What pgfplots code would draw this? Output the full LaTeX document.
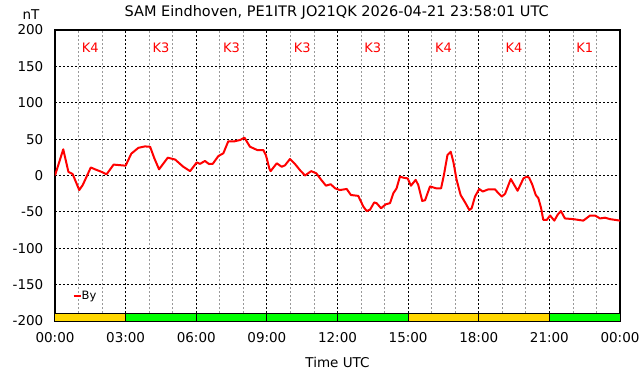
\documentclass[border=0pt]{standalone}
\usepackage{fontspec}
\setmainfont{DejaVu Sans}
\usepackage{pgfplots}
\pgfplotsset{compat=1.18}
\definecolor{kyellow}{RGB}{255,215,0}
\definecolor{kgreen}{RGB}{0,255,0}
\begin{document}
\fontsize{13.5}{15}\selectfont
\begin{tikzpicture}[x=1pt,y=1pt]
\useasboundingbox (0,0) rectangle (642,376);
\begin{axis}[
  at={(55pt,55pt)}, anchor=south west,
  scale only axis, width=565pt, height=291pt,
  xmin=0, xmax=24, ymin=-200, ymax=200,
  xtick={0,3,6,9,12,15,18,21,24},
  xticklabels={00:00,03:00,06:00,09:00,12:00,15:00,18:00,21:00,00:00},
  minor xtick={1,2,4,5,7,8,10,11,13,14,16,17,19,20,22,23},
  ytick={-200,-150,-100,-50,0,50,100,150,200},
  yticklabels={-200,-150,-100,-50,0,50,100,150,200},
  major tick length=0pt, minor tick length=0pt,
  grid=both,
  major grid style={black, dash pattern=on 2pt off 2pt, line width=0.8pt},
  minor grid style={black!40, dash pattern=on 2pt off 2pt, line width=0.8pt},
  axis line style={black, line width=1.2pt},
  xticklabel style={anchor=center, inner sep=0pt, yshift=-17pt},
  yticklabel style={anchor=east, inner sep=0pt, xshift=-11.5pt},
  legend style={at={(0.031,0.086)}, anchor=west, draw=none, fill=none, inner sep=0pt,
    font=\fontsize{11.5}{12}\selectfont, nodes={inner sep=0pt}},
  legend cell align=left,
  legend image code/.code={\draw[#1] (0pt,0pt) -- (7pt,0pt);},
]
% K-index bars
\addplot[fill=kyellow, draw=black, line width=1pt, forget plot] coordinates {(0,-200)(0,-189)(3,-189)(3,-200)} -- cycle;
\addplot[fill=kgreen, draw=black, line width=1pt, forget plot] coordinates {(3,-200)(3,-189)(6,-189)(6,-200)} -- cycle;
\addplot[fill=kgreen, draw=black, line width=1pt, forget plot] coordinates {(6,-200)(6,-189)(9,-189)(9,-200)} -- cycle;
\addplot[fill=kgreen, draw=black, line width=1pt, forget plot] coordinates {(9,-200)(9,-189)(12,-189)(12,-200)} -- cycle;
\addplot[fill=kgreen, draw=black, line width=1pt, forget plot] coordinates {(12,-200)(12,-189)(15,-189)(15,-200)} -- cycle;
\addplot[fill=kyellow, draw=black, line width=1pt, forget plot] coordinates {(15,-200)(15,-189)(18,-189)(18,-200)} -- cycle;
\addplot[fill=kyellow, draw=black, line width=1pt, forget plot] coordinates {(18,-200)(18,-189)(21,-189)(21,-200)} -- cycle;
\addplot[fill=kgreen, draw=black, line width=1pt, forget plot] coordinates {(21,-200)(21,-189)(24,-189)(24,-200)} -- cycle;
% By
\addplot[red, line width=2pt, line join=round] coordinates {
(0,0)(0.35,36)(0.57,5)(0.75,2)(1.03,-20)(1.18,-13)(1.52,11)(1.77,7.6)(1.98,5)(2.19,1.6)
(2.49,15)(3.0,13.5)(3.24,30)(3.54,38)(3.82,40)(4.04,39.5)(4.22,23.6)(4.42,8.5)(4.79,24.5)
(5.1,22)(5.45,12)(5.74,6)(6.02,18)(6.16,16)(6.37,20)(6.54,15.8)(6.7,16)(6.94,26.8)(7.15,30.5)
(7.36,47)(7.62,47)(7.86,48.8)(8.05,52)(8.28,39.6)(8.59,35)(8.85,35)(8.96,28)(9.1,10)(9.16,6)
(9.42,16.8)(9.63,12)(9.77,14)(9.98,22.7)(10.19,16)(10.4,7.6)(10.62,0)(10.88,6)(11.1,3)
(11.31,-6)(11.51,-14)(11.71,-12)(11.9,-17.6)(12.1,-20)(12.39,-18.5)(12.57,-26.8)(12.88,-28)
(13.1,-42.8)(13.24,-48.8)(13.38,-47)(13.56,-37)(13.66,-38)(13.85,-45)(14.05,-39.6)(14.23,-38)
(14.37,-24.5)(14.51,-17.6)(14.65,-1.6)(14.8,-3)(14.98,-4)(15.12,-14)(15.32,-6)(15.43,-13)
(15.6,-35)(15.72,-34)(15.93,-15)(16.19,-17.6)(16.4,-17.6)(16.52,0.7)(16.67,28)(16.81,32.7)
(16.92,19)(17.06,-6)(17.23,-26.8)(17.42,-37)(17.6,-47.4)(17.7,-45)(17.84,-29)(18.02,-18.5)
(18.17,-22)(18.41,-19)(18.69,-19)(18.84,-24.5)(18.98,-29)(19.12,-25)(19.36,-4.8)(19.65,-21)
(19.9,-3.9)(20.04,-1.6)(20.14,-3)(20.28,-13)(20.42,-26.8)(20.53,-31)(20.65,-45)(20.74,-61)
(20.89,-61)(21.03,-55)(21.21,-62)(21.35,-54)(21.49,-48.8)(21.66,-59)(22.02,-60)(22.44,-62)
(22.73,-55)(22.94,-55)(23.15,-59)(23.36,-58)(23.58,-60)(24,-62)
};
\addlegendentry{By}
\node[red, font=\fontsize{13}{14}\selectfont] at (axis cs:1.5,175) {K4};
\node[red, font=\fontsize{13}{14}\selectfont] at (axis cs:4.5,175) {K3};
\node[red, font=\fontsize{13}{14}\selectfont] at (axis cs:7.5,175) {K3};
\node[red, font=\fontsize{13}{14}\selectfont] at (axis cs:10.5,175) {K3};
\node[red, font=\fontsize{13}{14}\selectfont] at (axis cs:13.5,175) {K3};
\node[red, font=\fontsize{13}{14}\selectfont] at (axis cs:16.5,175) {K4};
\node[red, font=\fontsize{13}{14}\selectfont] at (axis cs:19.5,175) {K4};
\node[red, font=\fontsize{13}{14}\selectfont] at (axis cs:22.5,175) {K1};
\end{axis}
\node[font=\fontsize{14.5}{16}\selectfont] at (336.7,364) {SAM Eindhoven, PE1ITR JO21QK 2026-04-21 23:58:01 UTC};
\node at (31,361) {nT};
\node at (337.5,14) {Time UTC};
\end{tikzpicture}
\end{document}
